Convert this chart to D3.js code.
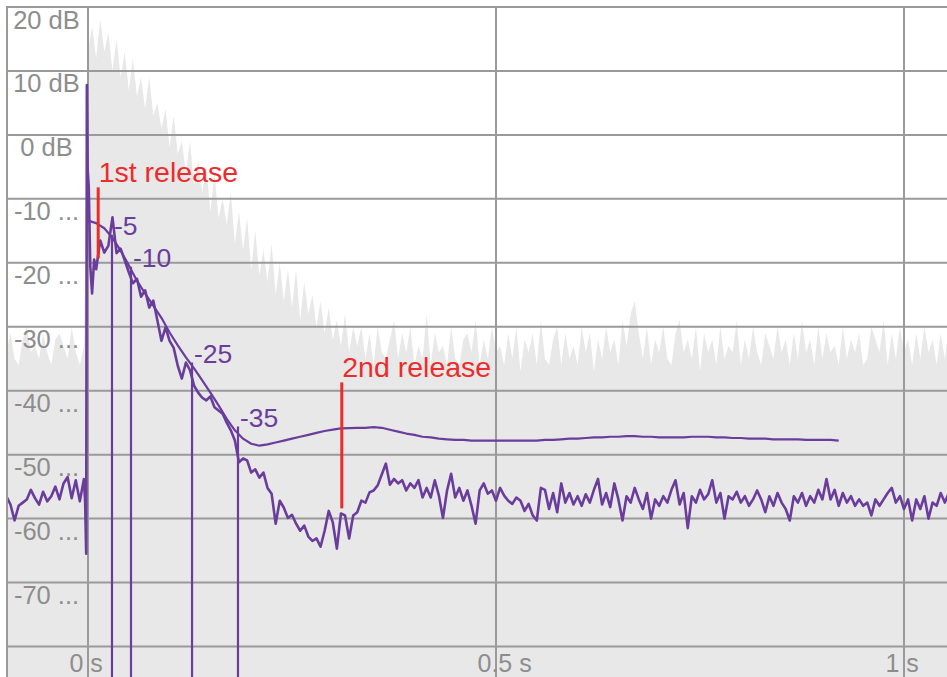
<!DOCTYPE html>
<html>
<head>
<meta charset="utf-8">
<script src="https://cdn.jsdelivr.net/npm/d3@7/dist/d3.min.js"></script>
<style>
  html, body { margin: 0; padding: 0; background: #ffffff; }
  svg { display: block; }
  text { font-family: Helvetica, Arial, "Liberation Sans", sans-serif; }
</style>
</head>
<body>
<svg id="chart" width="947" height="677"></svg>
<script>
// ---------------- DATA ----------------
// Gray energy envelope (dB), sampled every 0.005 s starting at t = -0.1 s
const envStart = -0.1;
const envStep = 0.005;
const envDb = [
  -34,-31,-35,-36,-32,-30,-34,-33,-35,-31,
  -34,-36,-32,-31,-33,-35,-30,-34,-36,-33,
  13,17,12,18,13,16,10,15,9,13,
  7,12,6,9,4,9,3,5,1,4,
  -2,3,-3,-1,-6,-1,-8,-4,-9,-5,
  -12,-6,-13,-10,-14,-9,-17,-12,-18,-13,
  -21,-15,-22,-18,-23,-17,-25,-20,-26,-21,
  -27,-21,-29,-23,-28,-25,-30,-26,-31,-27,
  -32,-29,-33,-28,-34,-30,-33,-30,
  -35,-31,-36,-30,-34,-35,-32,-29,-35,-31,
  -34,-30,-36,-33,-35,-28,-36,-31,-34,-33,
  -36,-30,-35,-36,-32,-31,-34,-29,-36,-32,
  -35,-30,-34,-33,-36,-31,-35,-30,-37,-32,
  -34,-31,-36,-29,-35,-36,-32,-30,-36,-31,
  -35,-33,-36,-30,-34,-31,-37,-32,-35,-30,
  -34,-32,-36,-29,-33,-28,-26,-31,-35,-30,
  -36,-32,-34,-30,-35,-36,-31,-29,-34,-32,
  -35,-30,-37,-31,-34,-32,-36,-30,-35,-33,
  -34,-29,-36,-32,-35,-30,-34,-36,-31,-33,
  -35,-30,-34,-32,-36,-31,-35,-29,-34,-32,
  -36,-30,-35,-31,-34,-33,-36,-30,-35,-32,
  -34,-31,-36,-35,-30,-32,-34,-29,-36,-31,
  -35,-30,-34,-32,-36,-31,-35,-30,-34,-32,
  -36,-31,-35,-30
];

// Purple response: noise before the impulse (every 0.005 s from t = -0.1 s)
const irPreStart = -0.1;
const irPreStep = 0.005;
const irPreDb = [
  -56.5,-57.8,-60.3,-58.0,-57.5,-57.0,-55.5,-56.8,-57.8,-55.8,
  -57.3,-56.5,-55.0,-57.0,-54.5,-53.5,-56.8,-54.0,-57.3,-53.8
];
// Purple response around the impulse onset (irregular times)
const irOnsetT  = [-0.0035, -0.0022, -0.0014, -0.0004, 0.0009, 0.0028, 0.0050, 0.0075];
const irOnsetDb = [-57.5, -65.5, 7.8, -5.5, -8.0, -20.5, -24.8, -19.5];
// Purple response after the onset (every 0.005 s from t = 0.01 s)
const irPostStart = 0.01;
const irPostStep = 0.005;
const irPostDb = [
  -21.0,-16.5,-18.4,-17.3,-12.9,-18.5,-17.8,-19.6,-21.5,-23.2,
  -22.5,-25.3,-24.3,-27.0,-25.9,-29.0,-32.2,-30.1,-32.2,-33.3,
  -36.1,-38.1,-35.6,-36.8,-39.2,-40.3,-41.1,-41.5,-40.9,-42.6,
  -43.1,-43.6,-45.0,-46.2,-47.8,-51.2,-50.6,-50.9,-52.8,-52.3,
  -53.6,-52.8,-55.2,-56.1,-60.8,-57.2,-58.3,-59.9,-59.4,-60.8,
  -61.9,-61.1,-62.8,-63.5,-63.1,-64.4,-61.9,-58.8,-60.6,-64.7,
  -59.2,-59.5,-63.1,-59.5,-59.0,-57.2,-57.5,-55.9,-55.6,-54.8,
  -53.1,-51.4,-54.7,-53.8,-54.5,-54.0,-55.6,-54.5,-55.2,-54.0,
  -56.7,-55.2,-56.7,-54.0,-56.4,-59.9,-55.6,-53.0,-56.7,-55.2,
  -57.2,-55.6,-58.0,-60.8,-55.6,-54.5,-56.1,-55.6,-57.2,-55.2,
  -56.4,-57.2,-57.7,-56.7,-57.2,-58.8,-57.7,-59.5,-60.3,-55.2,
  -55.5,-58.5,-56.0,-59.0,-54.5,-57.5,-56.0,-57.8,-56.5,-58.0,
  -56.2,-57.5,-55.5,-53.8,-57.8,-56.0,-58.2,-54.5,-57.0,-60.3,
  -56.5,-57.5,-55.2,-57.0,-58.5,-56.0,-60.0,-57.0,-58.0,-56.5,
  -57.5,-55.5,-54.0,-57.8,-56.0,-61.5,-56.5,-57.5,-55.5,-57.0,
  -56.2,-54.0,-57.5,-56.0,-60.0,-56.5,-57.0,-55.8,-57.5,-56.5,
  -58.0,-57.0,-55.6,-57.0,-59.0,-56.5,-58.0,-56.0,-57.5,-58.5,
  -60.3,-56.5,-57.5,-56.0,-58.0,-56.5,-57.5,-55.5,-57.0,-53.8,
  -57.0,-55.5,-58.0,-56.0,-57.5,-56.5,-58.0,-57.0,-58.0,-57.5,
  -59.5,-57.0,-58.0,-57.0,-56.0,-55.2,-57.5,-56.5,-58.5,-57.0,
  -60.3,-57.0,-58.5,-56.5,-60.0,-57.5,-58.0,-56.0,-57.5,-56.0
];

// Smoothed decay curve (every 0.01 s from t = 0)
const smoothStart = 0;
const smoothStep = 0.01;
const smoothDb = [
  -13.4,-13.8,-14.6,-16.1,-18.1,-20.4,-22.8,-24.8,-26.7,-28.6,
  -30.9,-32.9,-34.8,-36.5,-38.4,-40.3,-42.3,-44.4,-46.2,-47.5,
  -48.3,-48.6,-48.4,-48.1,-47.8,-47.5,-47.2,-46.9,-46.6,-46.3,
  -46.1,-45.9,-45.85,-45.8,-45.8,-45.7,-45.8,-46.1,-46.4,-46.7,
  -46.9,-47.2,-47.3,-47.5,-47.6,-47.7,-47.7,-47.8,-47.8,-47.8,
  -47.8,-47.8,-47.8,-47.8,-47.8,-47.8,-47.7,-47.7,-47.6,-47.5,
  -47.5,-47.4,-47.3,-47.3,-47.2,-47.2,-47.1,-47.1,-47.2,-47.2,
  -47.3,-47.3,-47.3,-47.3,-47.2,-47.2,-47.2,-47.3,-47.3,-47.4,
  -47.4,-47.5,-47.5,-47.5,-47.6,-47.6,-47.6,-47.6,-47.7,-47.7,
  -47.7,-47.7,-47.8
];

// Decay markers
const markerT = [0.0294, 0.0527, 0.1275, 0.1838];
const markerLevel = [-5, -10, -25, -35];
const markerLabels = ["-5", "-10", "-25", "-35"];
const refLevel = -10.6;

// Release annotations
const releaseT = [0.0125, 0.311];
const releaseTopDb = [-8.2, -38.7];
const releaseBottomDb = [-19.3, -58.4];
const releaseLabels = ["1st release", "2nd release"];

// Axes
const gridDb = [20, 10, 0, -10, -20, -30, -40, -50, -60, -70, -80];
const yTickValues = [20, 10, 0, -10, -20, -30, -40, -50, -60, -70];
const yTickLabels = ["20 dB", "10 dB", "0 dB", "-10 ...", "-20 ...", "-30 ...", "-40 ...", "-50 ...", "-60 ...", "-70 ..."];
const xTickValues = [0, 0.5, 1];
const xTickLabels = ["0 s", "0.5 s", "1 s"];

// ---------------- DRAW ----------------
const W = 947, H = 677;
const plotL = 7, plotT = 7;
const svg = d3.select("#chart");

const x = d3.scaleLinear().domain([0, 1]).range([88, 904]);
const y = d3.scaleLinear().domain([-80, 20]).range([646.5, 7]);

const GRID = "#9a9a9a", PURPLE = "#6a3d9c", RED = "#ee2b2b", LABEL = "#8d8d8d";

svg.append("rect").attr("width", W).attr("height", H).attr("fill", "#ffffff");

svg.append("defs").append("clipPath").attr("id", "plot")
  .append("rect").attr("x", plotL).attr("y", plotT).attr("width", W - plotL).attr("height", H - plotT);

const plot = svg.append("g").attr("clip-path", "url(#plot)");

// Gray envelope area
const envData = envDb.map((v, i) => ({ t: envStart + i * envStep, v }));
plot.append("path")
  .datum(envData)
  .attr("fill", "#e8e8e8")
  .attr("d", d3.area().x(d => x(d.t)).y0(H).y1(d => y(d.v)));

// Grid
plot.selectAll("line.h").data(gridDb).join("line")
  .attr("class", "h")
  .attr("x1", plotL).attr("x2", W)
  .attr("y1", d => y(d)).attr("y2", d => y(d))
  .attr("stroke", GRID).attr("stroke-width", 2);
plot.selectAll("line.v").data(xTickValues).join("line")
  .attr("class", "v")
  .attr("x1", d => x(d)).attr("x2", d => x(d))
  .attr("y1", plotT).attr("y2", H)
  .attr("stroke", GRID).attr("stroke-width", 2);
svg.append("line").attr("x1", plotL).attr("x2", plotL).attr("y1", plotT - 1).attr("y2", H)
  .attr("stroke", GRID).attr("stroke-width", 2);
svg.append("line").attr("x1", plotL - 1).attr("x2", W).attr("y1", y(20)).attr("y2", y(20))
  .attr("stroke", GRID).attr("stroke-width", 2);

// Axis labels
svg.selectAll("text.ylab").data(yTickValues).join("text")
  .attr("class", "ylab")
  .attr("x", 46.5).attr("y", d => y(d) + 21.5)
  .attr("text-anchor", "middle")
  .attr("font-size", 25.5)
  .attr("fill", LABEL)
  .text((d, i) => yTickLabels[i]);
svg.selectAll("text.xlab").data(xTickValues).join("text")
  .attr("class", "xlab")
  .attr("x", d => x(d) - 18.5).attr("y", 672)
  .attr("text-anchor", "start")
  .attr("font-size", 25)
  .attr("fill", LABEL)
  .text((d, i) => xTickLabels[i]);

// Smooth decay curve
const smoothData = smoothDb.map((v, i) => ({ t: smoothStart + i * smoothStep, v }));
const line = d3.line().x(d => x(d.t)).y(d => y(d.v));
plot.append("path").datum(smoothData)
  .attr("fill", "none").attr("stroke", PURPLE).attr("stroke-width", 2.2)
  .attr("stroke-linejoin", "round")
  .attr("d", line);

// Noisy response
const irData = []
  .concat(irPreDb.map((v, i) => ({ t: irPreStart + i * irPreStep, v })))
  .concat(irOnsetDb.map((v, i) => ({ t: irOnsetT[i], v })))
  .concat(irPostDb.map((v, i) => ({ t: irPostStart + i * irPostStep, v })));
plot.append("path").datum(irData)
  .attr("fill", "none").attr("stroke", PURPLE).attr("stroke-width", 2.6)
  .attr("stroke-linejoin", "round")
  .attr("d", line);

// Markers
const markers = markerT.map((t, i) => ({ t, lvl: refLevel + markerLevel[i], label: markerLabels[i] }));
plot.selectAll("line.marker").data(markers).join("line")
  .attr("class", "marker")
  .attr("x1", d => x(d.t)).attr("x2", d => x(d.t))
  .attr("y1", d => y(d.lvl)).attr("y2", H)
  .attr("stroke", PURPLE).attr("stroke-width", 2.2);
svg.selectAll("text.mlab").data(markers).join("text")
  .attr("class", "mlab")
  .attr("x", d => x(d.t) + 2).attr("y", d => y(d.lvl))
  .attr("font-size", 26.5)
  .attr("fill", PURPLE)
  .text(d => d.label);

// Releases
const releases = releaseT.map((t, i) => ({ t, top: releaseTopDb[i], bottom: releaseBottomDb[i], label: releaseLabels[i] }));
plot.selectAll("line.rel").data(releases).join("line")
  .attr("class", "rel")
  .attr("x1", d => x(d.t)).attr("x2", d => x(d.t))
  .attr("y1", d => y(d.top)).attr("y2", d => y(d.bottom))
  .attr("stroke", RED).attr("stroke-width", 3);
svg.selectAll("text.rlab").data(releases).join("text")
  .attr("class", "rlab")
  .attr("x", d => x(d.t) + 0.5).attr("y", d => y(d.top) - 5)
  .attr("font-size", 28.5)
  .attr("fill", RED)
  .text(d => d.label);
</script>
</body>
</html>
